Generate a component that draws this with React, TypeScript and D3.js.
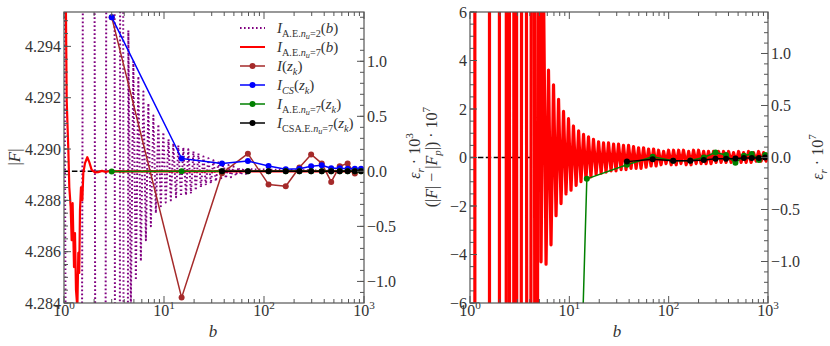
import React, { useEffect, useRef } from "react";
import * as d3 from "d3";

// |F_p| : converged value (dashed reference line)
const FP = 4.28913;

// nodes z_k on the b axis
const zkB = [3, 15, 38, 69, 111, 165, 226, 296, 378, 470, 572, 686, 810, 935];
const iZkF = [4.29514, 4.28421, 4.28906, 4.28982, 4.28862, 4.28855, 4.28928, 4.28979, 4.28944, 4.28872, 4.28933, 4.28944, 4.28905, 4.2892];
const iCsF = [4.29514, 4.28963, 4.28944, 4.28953, 4.28934, 4.28921, 4.28923, 4.28933, 4.28937, 4.28925, 4.28925, 4.28923, 4.28923, 4.28923];
// (|F| - |F_p|) * 1e7
const ae7ZkErr = [-100, -0.88, -0.3, 0.03, -0.13, -0.12, 0.0, 0.21, 0.1, -0.22, 0.07, 0.14, -0.1, 0.1];
const csaB = [38, 69, 111, 165, 226, 296, 378, 470, 572, 686, 810, 935];
const csaErr = [-0.17, -0.07, -0.13, -0.13, -0.1, -0.05, -0.05, -0.04, -0.02, -0.02, -0.02, 0.0];

// I_A.E. n_u=2 (b): turning points of the oscillation, |F|
const ae2B = [1.0, 1.3, 1.8, 2.3, 3.0, 3.45, 3.75, 4.1,
  4.40, 4.66, 4.94, 5.23, 5.54, 5.87, 6.22, 6.59, 6.98, 7.39, 7.83, 8.29, 8.78, 9.30, 9.86, 10.4, 11.1, 11.7, 12.4, 13.2,
  13.9, 14.8, 15.6, 16.6, 17.5, 18.6, 19.7, 20.8, 22.1, 23.4, 24.8, 26.2, 27.8, 29.4, 31.2, 33.0, 35.0, 37.1, 39.3, 41.6,
  44.1, 46.7, 49.5, 52.4, 55.5, 58.8, 62.3, 66.0, 69.9, 1000];
const ae2F = [4.30, 4.18, 4.40, 4.18, 4.40, 4.18, 4.36, 4.22,
  4.29462, 4.28388, 4.29341, 4.28489, 4.29283, 4.28563, 4.29224, 4.28645, 4.29178, 4.28699, 4.29131, 4.2875, 4.29096, 4.28777,
  4.29065, 4.28792, 4.29038, 4.288, 4.29022, 4.28812, 4.29014, 4.28816, 4.29006, 4.2882, 4.28999, 4.28827, 4.28991, 4.28839,
  4.28983, 4.28851, 4.28971, 4.28859, 4.28964, 4.28866, 4.28956, 4.28874, 4.28948, 4.2888, 4.28944, 4.28886, 4.28938, 4.2889,
  4.28933, 4.28896, 4.28929, 4.28899, 4.28925, 4.28903, 4.28921, 4.28913];

// I_A.E. n_u=7 (b): (|F| - |F_p|) * 1e7
const ae7B = [1.0, 1.064, 1.105, 1.13, 1.166, 1.193, 1.22, 1.259, 1.288, 1.318, 1.36, 1.39, 1.42, 1.445, 1.479, 1.525,
  1.56, 1.622, 1.71, 1.79, 1.89, 2.04, 2.2, 2.4, 2.62, 2.85, 3.05, 3.5, 3.9, 4.3, 4.6, 4.95,
  5.19, 5.5, 5.83, 6.17, 6.54, 6.93, 7.35, 7.79, 8.25, 8.74, 9.26, 9.81, 10.4, 11.0, 11.7, 12.4, 13.1, 13.9, 14.7, 15.6,
  16.5, 17.5, 18.6, 19.7, 20.9, 22.1, 23.4, 24.8, 26.3, 27.9, 29.5, 31.3, 33.2, 35.1, 37.2, 39.5, 41.8, 44.3, 47.0, 49.8,
  52.7, 55.9, 59.2, 62.8, 66.5, 70.5, 74.7, 79.1, 83.8, 88.9, 94.1, 99.8, 106, 112, 119, 126, 133, 141, 150, 159,
  168, 178, 189, 200, 212, 225, 238, 252, 267, 283, 300, 318, 337, 357, 378, 401, 425, 450, 477, 506,
  536, 568, 602, 638, 676, 716, 759, 804, 852, 903, 957, 1000];
const ae7Err = [150000, 27700, 8200, -6200, -13900, -26800, -12400, -37300, -24100, -46200, -53300, -31800, -39600, -15100, -6200, -11200,
  -700, 3200, 5500, 3600, 600, -400, -300, 200, -250, 150, -150, 120, -100, 80, -60, 40,
  -4.3, 7.0, -4.4, 3.6, -3.6, 3.0, -2.4, 2.4, -1.9, 1.9, -1.5, 1.6, -1.35, 1.3, -1.15, 1.1, -1.0, 0.95, -0.9, 0.85,
  -0.8, 0.75, -0.7, 0.65, -0.65, 0.6, -0.6, 0.6, -0.55, 0.55, -0.55, 0.55, -0.5, 0.5, -0.5, 0.5, -0.45, 0.45, -0.45, 0.4,
  -0.45, 0.4, -0.4, 0.35, -0.35, 0.35, -0.35, 0.3, -0.3, 0.25, -0.25, 0.3, -0.3, 0.3, -0.3, 0.3, -0.25, 0.3, -0.3, 0.25,
  -0.3, 0.3, -0.25, 0.3, -0.25, 0.25, -0.25, 0.25, -0.25, 0.25, -0.2, 0.25, -0.2, 0.25, -0.2, 0.25, -0.2, 0.2, -0.2, 0.25,
  -0.2, 0.2, -0.2, 0.25, -0.2, 0.2, -0.15, 0.25, -0.15, 0.2, -0.15, 0.2];

// tick labels
const decades = [1, 10, 100, 1000];
const decadeExp = ["0", "1", "2", "3"];
const fTicks = [4.284, 4.286, 4.288, 4.29, 4.292, 4.294];
const epsTicks = [-1.0, -0.5, 0.0, 0.5, 1.0];
const errTicks = [-6, -4, -2, 0, 2, 4, 6];

const FONT = "Liberation Serif";
const TXT = "#333";
const AX = "#555";

// tiny math typesetter: parts are [text, flags]; flags i=italic, s=sub, ss=subsub, p=sup
const mathText = (g, x, y, parts, size, anchor = "start", rot = 0) => {
  const t = g
    .append("text")
    .attr("transform", `translate(${x},${y})` + (rot ? ` rotate(${rot})` : ""))
    .attr("text-anchor", anchor)
    .style("font-family", FONT)
    .attr("font-size", size)
    .attr("fill", TXT);
  let cur = 0;
  parts.forEach(([s, f = ""]) => {
    let lv = 0;
    let fs = size;
    if (f.includes("ss")) { lv = size * 0.42; fs = size * 0.55; }
    else if (f.includes("s")) { lv = size * 0.26; fs = size * 0.68; }
    else if (f.includes("p")) { lv = -size * 0.42; fs = size * 0.7; }
    t.append("tspan")
      .attr("dy", lv - cur)
      .attr("font-size", fs)
      .style("font-family", FONT)
      .attr("font-style", f.includes("i") ? "italic" : "normal")
      .text(s);
    cur = lv;
  });
  return t;
};

const App = () => {
  const svgRef = useRef(null);

  useEffect(() => {
    const svg = d3.select(svgRef.current);
    svg.selectAll("*").remove();

    const xL = d3.scaleLog().domain([1, 1000]).range([64, 364]);
    const yL = d3.scaleLinear().domain([4.284, 4.29534]).range([303, 12]);
    const yL2 = d3.scaleLinear()
      .domain([((4.284 - FP) / FP) * 1e3, ((4.29534 - FP) / FP) * 1e3])
      .range([303, 12]);
    const xR = d3.scaleLog().domain([1, 1000]).range([470, 768]);
    const yR = d3.scaleLinear().domain([-6, 6]).range([303, 12]);
    const yR2 = d3.scaleLinear().domain([-6 / FP, 6 / FP]).range([303, 12]);

    const defs = svg.append("defs");
    const clip = (id, x, y) => {
      defs.append("clipPath").attr("id", id).append("rect")
        .attr("x", x.range()[0]).attr("y", y.range()[1])
        .attr("width", x.range()[1] - x.range()[0])
        .attr("height", y.range()[0] - y.range()[1]);
    };
    clip("clipL", xL, yL);
    clip("clipR", xR, yR);

    const addLine = (g, pts, x, y, color, w, dash = null) =>
      g.append("path")
        .datum(pts)
        .attr("d", d3.line().x((d) => x(d[0])).y((d) => y(d[1])))
        .attr("fill", "none")
        .attr("stroke", color)
        .attr("stroke-width", w)
        .attr("stroke-dasharray", dash)
        .attr("stroke-linejoin", "round");

    const addDots = (g, pts, x, y, color) =>
      g.append("g").selectAll("circle").data(pts).join("circle")
        .attr("cx", (d) => x(d[0])).attr("cy", (d) => y(d[1]))
        .attr("r", 3).attr("fill", color);

    const toF = (v) => FP + v * 1e-7;

    // ---------- left panel ----------
    const gL = svg.append("g").attr("clip-path", "url(#clipL)");
    gL.append("line")
      .attr("x1", 64).attr("x2", 364).attr("y1", yL(FP)).attr("y2", yL(FP))
      .attr("stroke", "#000").attr("stroke-width", 1.5).attr("stroke-dasharray", "5.5,2.4");
    addLine(gL, d3.zip(ae2B, ae2F), xL, yL, "#800080", 2, "1.6,2.4");
    addLine(gL, d3.zip(ae7B, ae7Err.map(toF)), xL, yL, "#ff0000", 2.2);
    addLine(gL, d3.zip(zkB, iZkF), xL, yL, "#a52a2a", 1.5);
    addDots(gL, d3.zip(zkB, iZkF), xL, yL, "#a52a2a");
    addLine(gL, d3.zip(zkB, iCsF), xL, yL, "#0000ff", 1.5);
    addDots(gL, d3.zip(zkB, iCsF), xL, yL, "#0000ff");
    addLine(gL, d3.zip(zkB, ae7ZkErr.map(toF)), xL, yL, "#008000", 1.5);
    addDots(gL, d3.zip(zkB, ae7ZkErr.map(toF)), xL, yL, "#008000");
    addLine(gL, d3.zip(csaB, csaErr.map(toF)), xL, yL, "#000", 1.5);
    addDots(gL, d3.zip(csaB, csaErr.map(toF)), xL, yL, "#000");

    // ---------- right panel ----------
    const gR = svg.append("g").attr("clip-path", "url(#clipR)");
    gR.append("line")
      .attr("x1", 470).attr("x2", 768).attr("y1", yR(0)).attr("y2", yR(0))
      .attr("stroke", "#000").attr("stroke-width", 1.5).attr("stroke-dasharray", "5.5,2.4");
    addLine(gR, d3.zip(ae7B, ae7Err), xR, yR, "#ff0000", 3.2);
    addLine(gR, d3.zip(zkB, ae7ZkErr), xR, yR, "#008000", 1.5);
    addDots(gR, d3.zip(zkB, ae7ZkErr), xR, yR, "#008000");
    addLine(gR, d3.zip(csaB, csaErr), xR, yR, "#000", 1.5);
    addDots(gR, d3.zip(csaB, csaErr), xR, yR, "#000");

    // ---------- frames, ticks, labels ----------
    const axes = svg.append("g");
    const tick = (x1, y1, x2, y2) =>
      axes.append("line").attr("x1", x1).attr("y1", y1).attr("x2", x2).attr("y2", y2)
        .attr("stroke", AX).attr("stroke-width", 1);

    const fmt = (v, d) => (v < 0 ? "\u2212" : "") + Math.abs(v).toFixed(d);

    const panel = (x, y, yLeftMaj, yLeftMin, fmtL, yRight, yRightMaj, yRightMin, fmtR) => {
      const [x0, x1] = x.range();
      const [y1, y0] = y.range();
      // log x ticks, bottom and top
      decades.forEach((d, i) => {
        tick(x(d), y1, x(d), y1 - 7);
        tick(x(d), y0, x(d), y0 + 7);
        mathText(axes, x(d), 316, [["10"], [decadeExp[i], "p"]], 16, "middle");
        if (d < 1000) {
          d3.range(2, 10).forEach((m) => {
            tick(x(d * m), y1, x(d * m), y1 - 4);
            tick(x(d * m), y0, x(d * m), y0 + 4);
          });
        }
      });
      yLeftMaj.forEach((v) => {
        tick(x0, y(v), x0 + 7, y(v));
        mathText(axes, x0 - 3, y(v) + 5.5, [[fmtL(v)]], 16, "end");
      });
      yLeftMin.forEach((v) => tick(x0, y(v), x0 + 4, y(v)));
      yRightMaj.forEach((v) => {
        tick(x1, yRight(v), x1 - 7, yRight(v));
        mathText(axes, x1 + 3, yRight(v) + 5.5, [[fmtR(v)]], 16, "start");
      });
      yRightMin.forEach((v) => tick(x1, yRight(v), x1 - 4, yRight(v)));
      axes.append("rect")
        .attr("x", x0).attr("y", y0).attr("width", x1 - x0).attr("height", y1 - y0)
        .attr("fill", "none").attr("stroke", AX).attr("stroke-width", 1.2);
    };

    const inside = (s) => (v) => v >= Math.min(...s.domain()) - 1e-9 && v <= Math.max(...s.domain()) + 1e-9;

    panel(
      xL, yL,
      fTicks, d3.range(0, 24).map((i) => 4.284 + i * 0.0005).filter(inside(yL)), (v) => v.toFixed(3),
      yL2, epsTicks, d3.range(-15, 16).map((i) => i / 10).filter(inside(yL2)), (v) => fmt(v, 1)
    );
    panel(
      xR, yR,
      errTicks, d3.range(-12, 13).map((i) => i / 2), (v) => fmt(v, 0),
      yR2, epsTicks, d3.range(-14, 15).map((i) => i / 10).filter(inside(yR2)), (v) => fmt(v, 1)
    );

    // axis titles
    mathText(axes, 20, 157, [["|"], ["F", "i"], ["|"]], 17, "middle", -90);
    mathText(axes, 213, 337, [["b", "i"]], 17, "middle");
    mathText(axes, 617, 337, [["b", "i"]], 17, "middle");
    mathText(axes, 420, 156, [["\u03b5", "i"], ["r", "si"], [" \u00b7 10"], ["3", "p"]], 16, "middle", -90);
    mathText(axes, 437, 157, [["(|"], ["F", "i"], ["| \u2212 |"], ["F", "i"], ["p", "si"], ["|) \u00b7 10"], ["7", "p"]], 16, "middle", -90);
    mathText(axes, 823, 157, [["\u03b5", "i"], ["r", "si"], [" \u00b7 10"], ["7", "p"]], 16, "middle", -90);

    // legend
    const legend = [
      { c: "#800080", dash: "1.6,2.4", dot: false, w: 2, t: [["I", "i"], ["A.E.", "s"], ["n", "si"], ["u", "ssi"], ["=2", "s"], ["("], ["b", "i"], [")"]] },
      { c: "#ff0000", dash: null, dot: false, w: 2, t: [["I", "i"], ["A.E.", "s"], ["n", "si"], ["u", "ssi"], ["=7", "s"], ["("], ["b", "i"], [")"]] },
      { c: "#a52a2a", dash: null, dot: true, w: 1.5, t: [["I", "i"], ["("], ["z", "i"], ["k", "si"], [")"]] },
      { c: "#0000ff", dash: null, dot: true, w: 1.5, t: [["I", "i"], ["CS", "si"], ["("], ["z", "i"], ["k", "si"], [")"]] },
      { c: "#008000", dash: null, dot: true, w: 1.5, t: [["I", "i"], ["A.E.", "s"], ["n", "si"], ["u", "ssi"], ["=7", "s"], ["("], ["z", "i"], ["k", "si"], [")"]] },
      { c: "#000", dash: null, dot: true, w: 1.5, t: [["I", "i"], ["CSA.E.", "s"], ["n", "si"], ["u", "ssi"], ["=7", "s"], ["("], ["z", "i"], ["k", "si"], [")"]] },
    ];
    const lg = svg.append("g");
    legend.forEach((e, i) => {
      const cy = 28 + i * 19;
      lg.append("line").attr("x1", 240).attr("x2", 265).attr("y1", cy).attr("y2", cy)
        .attr("stroke", e.c).attr("stroke-width", e.w).attr("stroke-dasharray", e.dash);
      if (e.dot) lg.append("circle").attr("cx", 252.5).attr("cy", cy).attr("r", 3).attr("fill", e.c);
      mathText(lg, 277, cy + 5, e.t, 15, "start");
    });
  }, []);

  return (
    <svg
      ref={svgRef}
      width={830}
      height={346}
      style={{ position: "absolute", left: 0, top: 0, background: "#fff" }}
    ></svg>
  );
};

export default App;
